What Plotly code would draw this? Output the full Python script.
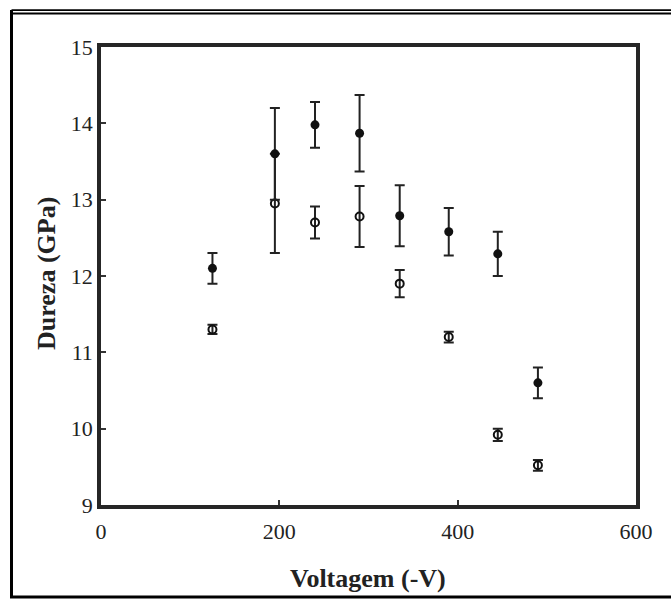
import plotly.graph_objects as go

# Data
voltage = [125, 195, 240, 290, 335, 390, 445, 490]
hard_filled = [12.10, 13.60, 13.98, 13.87, 12.79, 12.58, 12.29, 10.60]
err_filled = [0.20, 0.60, 0.30, 0.50, 0.40, 0.31, 0.29, 0.20]
hard_open = [11.30, 12.95, 12.70, 12.78, 11.90, 11.20, 9.92, 9.52]
err_open = [0.06, 0.65, 0.21, 0.40, 0.18, 0.07, 0.08, 0.07]

x_ticks = [0, 200, 400, 600]
y_ticks = [9, 10, 11, 12, 13, 14, 15]

W, H = 671, 599
L, R, T, B = 101, 636, 47, 505
SERIF = "Liberation Serif, Times New Roman, serif"
fig = go.Figure()

fig.add_trace(go.Scatter(
    x=voltage, y=hard_open, mode="markers",
    marker=dict(symbol="circle-open", size=8, color="#111", line=dict(width=2, color="#111")),
    error_y=dict(type="data", array=err_open, color="#222", thickness=2, width=5),
    showlegend=False))
fig.add_trace(go.Scatter(
    x=voltage, y=hard_filled, mode="markers",
    marker=dict(symbol="circle", size=9, color="#111"),
    error_y=dict(type="data", array=err_filled, color="#222", thickness=2, width=5),
    showlegend=False))

def px(xp):
    return (xp - L) / (R - L)

def py(yp):
    return (B - yp) / (B - T)

shapes = [
    # outer border
    dict(type="line", xref="paper", yref="paper", x0=px(11.5), x1=px(671), y0=py(10.2), y1=py(10.2),
         line=dict(color="black", width=1.8)),
    dict(type="line", xref="paper", yref="paper", x0=px(11.5), x1=px(671), y0=py(13.5), y1=py(13.5),
         line=dict(color="black", width=1.8)),
    dict(type="line", xref="paper", yref="paper", x0=px(11.5), x1=px(11.5), y0=py(10), y1=py(598),
         line=dict(color="black", width=3)),
    dict(type="line", xref="paper", yref="paper", x0=px(10), x1=px(671), y0=py(597), y1=py(597),
         line=dict(color="black", width=3)),
]

axis_common = dict(showgrid=False, zeroline=False, showline=True, linewidth=3.5, linecolor="#262626",
                   mirror=True, ticks="inside", ticklen=5, tickwidth=1.5, tickcolor="#333",
                   tickfont=dict(family=SERIF, size=22, color="#222"))

fig.update_layout(
    width=W, height=H,
    margin=dict(l=L, r=W - R, t=T, b=H - B, pad=0),
    paper_bgcolor="white", plot_bgcolor="white",
    xaxis=dict(range=[0, 600], tickvals=x_ticks, ticktext=[str(v) for v in x_ticks],
               ticklabelstandoff=4, **axis_common),
    yaxis=dict(range=[9, 15], tickvals=y_ticks, ticktext=[str(v) for v in y_ticks],
               ticklabelstandoff=0, **axis_common),
    shapes=shapes,
    annotations=[
        dict(text="<b>Voltagem (-V)</b>", xref="paper", yref="paper", x=px(368), y=py(578),
             showarrow=False, xanchor="center", yanchor="middle",
             font=dict(family=SERIF, size=26, color="#222")),
        dict(text="<b>Dureza (GPa)</b>", xref="paper", yref="paper", x=px(46), y=py(274),
             showarrow=False, xanchor="center", yanchor="middle", textangle=-90,
             font=dict(family=SERIF, size=26, color="#222")),
    ],
)

fig.write_html("out.html")
